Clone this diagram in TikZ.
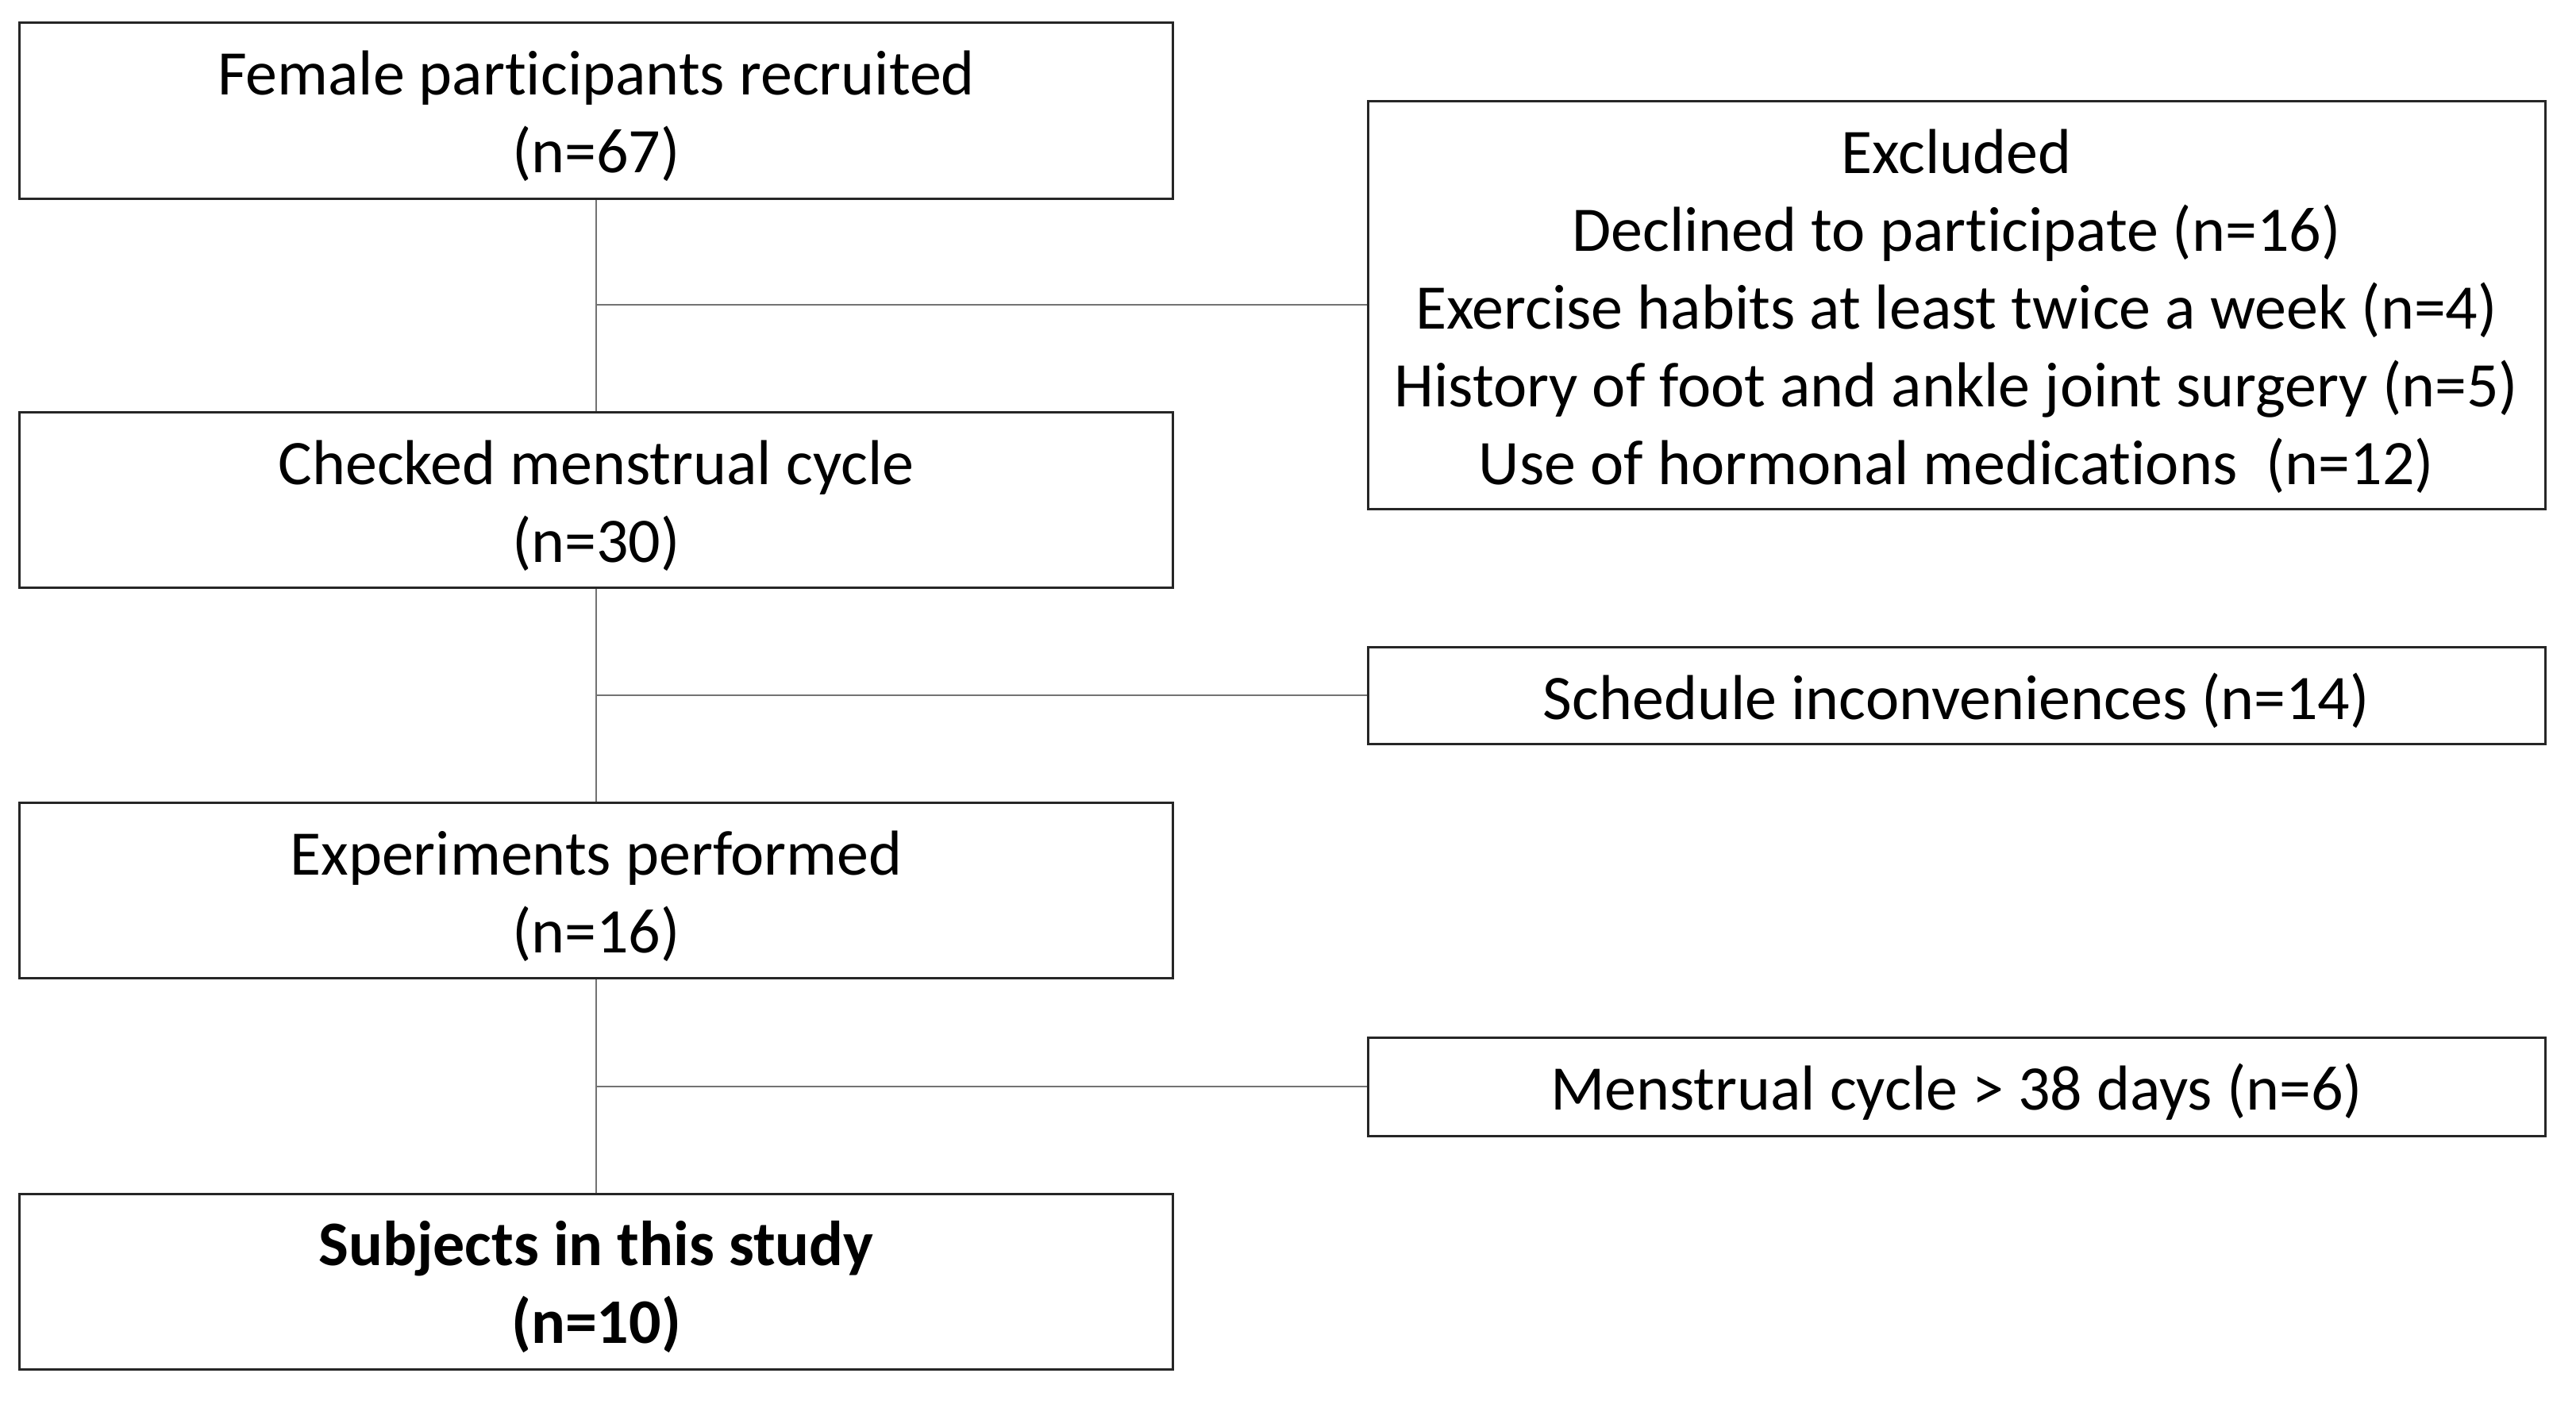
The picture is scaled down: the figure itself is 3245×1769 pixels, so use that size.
\documentclass[tikz,border=0pt]{standalone}
\usepackage{fontspec}
\setmainfont{Carlito}[Ligatures=NoCommon]
\begin{document}
\begin{tikzpicture}[x=1pt,y=-1pt,
  box/.style={draw=black!85, line width=3pt, inner sep=0pt},
  leftbox/.style={box, minimum width=1453pt, minimum height=221pt},
  rightbox/.style={box, minimum width=1483pt},
  txt/.style={align=center, inner sep=0pt, font=\fontsize{80}{98}\selectfont},
  conn/.style={draw=black!55, line width=2.2pt}]
\useasboundingbox (0,0) rectangle (3245,1769);
\node[leftbox] (b1) at (751,139.5) {};
\node[leftbox] (b2) at (751,630) {};
\node[leftbox] (b3) at (751,1122) {};
\node[leftbox] (b4) at (751,1614.5) {};
\node[rightbox, minimum height=514pt] (e1) at (2464.5,384) {};
\node[rightbox, minimum height=122pt] (e2) at (2464.5,876) {};
\node[rightbox, minimum height=124pt] (e3) at (2464.5,1369) {};
\node[txt] (t1) at ([yshift=-7pt]b1.center) {Female participants recruited\\(n=67)};
\node[txt] (t2) at ([yshift=-7pt]b2.center) {Checked menstrual cycle\\(n=30)};
\node[txt] (t3) at ([yshift=-7pt]b3.center) {Experiments performed\\(n=16)};
\node[txt, font=\fontsize{80}{98}\selectfont\bfseries] (t4) at ([yshift=-7pt]b4.center) {Subjects in this study\\(n=10)};
\node[txt] (u1) at ([yshift=-8pt]e1.center) {Excluded\\Declined to participate (n=16)\\Exercise habits at least twice a week (n=4)\\History of foot and ankle joint surgery (n=5)\\Use of hormonal medications\ \ (n=12)};
\node[txt] (u2) at ([yshift=-7pt]e2.center) {Schedule inconveniences (n=14)};
\node[txt] (u3) at ([yshift=-7pt]e3.center) {Menstrual cycle > 38 days (n=6)};
\draw[conn] (b1.south) -- (b2.north);
\draw[conn] (b2.south) -- (b3.north);
\draw[conn] (b3.south) -- (b4.north);
\draw[conn] (b1.south |- e1.west) -- (e1.west);
\draw[conn] (b2.south |- e2.west) -- (e2.west);
\draw[conn] (b3.south |- e3.west) -- (e3.west);
\end{tikzpicture}
\end{document}
